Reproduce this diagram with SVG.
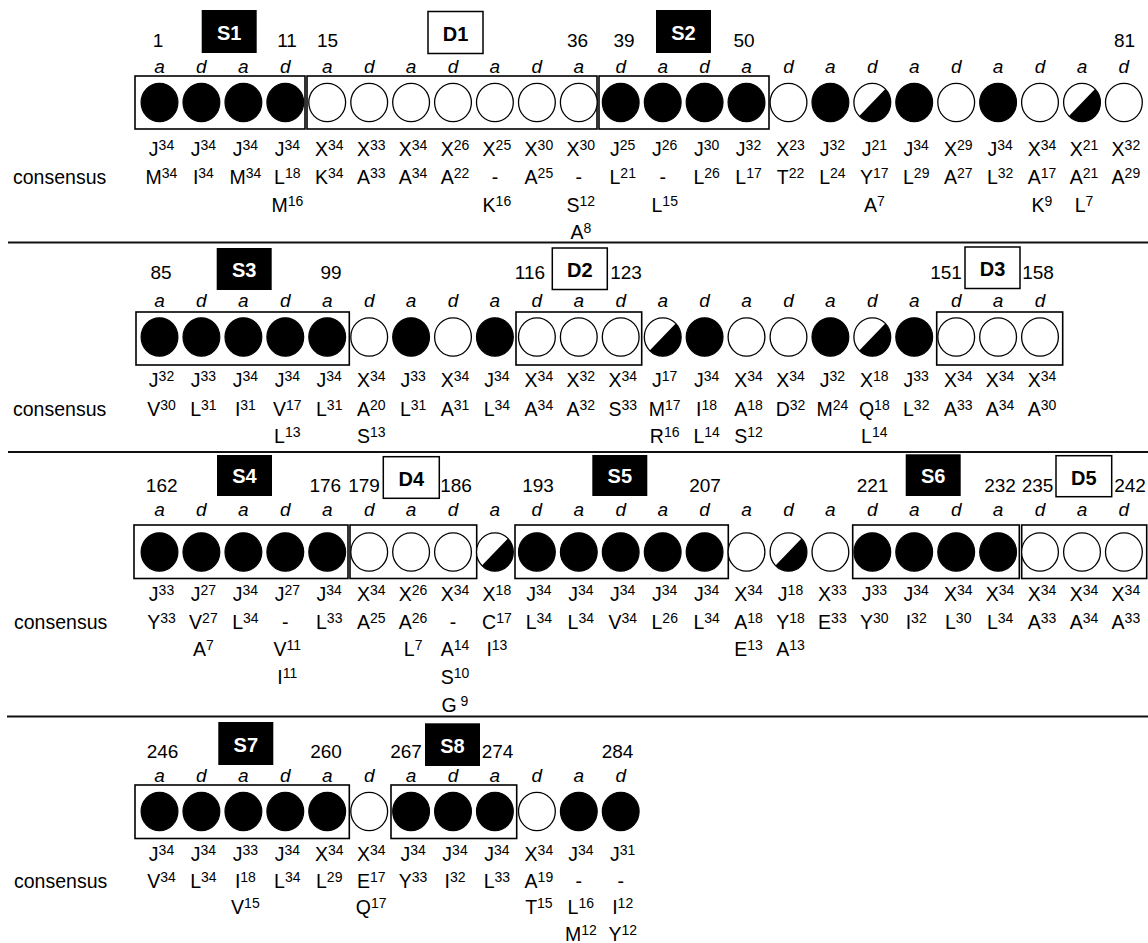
<svg xmlns="http://www.w3.org/2000/svg" width="1148" height="943" viewBox="0 0 1148 943">
<style>
text{font-family:"Liberation Sans",Arial,sans-serif;fill:#000}
.n{font-size:19px;text-anchor:middle}
.ad{font-size:19px;font-style:italic;text-anchor:middle}
.l{font-size:19.5px;text-anchor:middle}
.s{font-size:14px}
.cons{font-size:19.5px}
.hb{fill:#000}
.hw{fill:#fff;stroke:#000;stroke-width:1.5}
.ht{font-size:20px;font-weight:bold;text-anchor:middle}
.htw{fill:#fff}
.frame{fill:none;stroke:#000;stroke-width:1.6}
.rule{stroke:#111;stroke-width:1.8}
</style>
<defs>
<ellipse id="F" rx="18.4" ry="19.2" fill="#000" stroke="#000" stroke-width="1.2"/>
<ellipse id="O" rx="18.4" ry="19.2" fill="#fff" stroke="#000" stroke-width="1.3"/>
<g id="H"><ellipse rx="18.4" ry="19.2" fill="#fff" stroke="#000" stroke-width="1.3"/><path d="M-13.01,13.58 A18.4,19.2 0 0 0 13.01,-13.58 Z" fill="#000"/></g>
</defs>
<rect width="1148" height="943" fill="#fff"/>

<g id="rules">
<line class="rule" x1="8" y1="242.5" x2="1148" y2="242.5"/>
<line class="rule" x1="8" y1="452" x2="1148" y2="452"/>
<line class="rule" x1="7" y1="716.5" x2="1148" y2="716.5"/>
</g>

<!-- ROW 1 -->
<g id="row1">
<text class="cons" x="13" y="184">consensus</text>
<g id="S1"><rect class="hb" x="201.7" y="10" width="55" height="43"/><text class="ht htw" x="229.2" y="39.5">S1</text><rect class="frame" x="135" y="76" width="170" height="53"/></g>
<g id="D1"><rect class="hw" x="428" y="11.5" width="55" height="42"/><text class="ht" x="455.5" y="40.5">D1</text><rect class="frame" x="307" y="76" width="290" height="53"/></g>
<g id="S2"><rect class="hb" x="656" y="10" width="55" height="43"/><text class="ht htw" x="683.5" y="39.5">S2</text><rect class="frame" x="599" y="76" width="170" height="53"/></g>
<g id="r1num">
<text class="n" x="158" y="47">1</text><text class="n" x="287" y="47">11</text><text class="n" x="327.5" y="47">15</text><text class="n" x="577.5" y="47">36</text><text class="n" x="624" y="47">39</text><text class="n" x="744" y="47">50</text><text class="n" x="1124.5" y="47">81</text>
</g>
<g id="r1c0" transform="translate(159.5)"><text class="ad" y="72.5">a</text><use href="#F" y="102.5"/><text class="l" x="2" y="156">J<tspan class="s" dy="-6">34</tspan></text><text class="l" x="2" y="184">M<tspan class="s" dy="-6">34</tspan></text></g>
<g id="r1c1" transform="translate(201.4)"><text class="ad" y="72.5">d</text><use href="#F" y="102.5"/><text class="l" x="2" y="156">J<tspan class="s" dy="-6">34</tspan></text><text class="l" x="2" y="184">I<tspan class="s" dy="-6">34</tspan></text></g>
<g id="r1c2" transform="translate(243.4)"><text class="ad" y="72.5">a</text><use href="#F" y="102.5"/><text class="l" x="2" y="156">J<tspan class="s" dy="-6">34</tspan></text><text class="l" x="2" y="184">M<tspan class="s" dy="-6">34</tspan></text></g>
<g id="r1c3" transform="translate(285.3)"><text class="ad" y="72.5">d</text><use href="#F" y="102.5"/><text class="l" x="2" y="156">J<tspan class="s" dy="-6">34</tspan></text><text class="l" x="2" y="184">L<tspan class="s" dy="-6">18</tspan></text><text class="l" x="2" y="211.5">M<tspan class="s" dy="-6">16</tspan></text></g>
<g id="r1c4" transform="translate(327.2)"><text class="ad" y="72.5">a</text><use href="#O" y="102.5"/><text class="l" x="2" y="156">X<tspan class="s" dy="-6">34</tspan></text><text class="l" x="2" y="184">K<tspan class="s" dy="-6">34</tspan></text></g>
<g id="r1c5" transform="translate(369.2)"><text class="ad" y="72.5">d</text><use href="#O" y="102.5"/><text class="l" x="2" y="156">X<tspan class="s" dy="-6">33</tspan></text><text class="l" x="2" y="184">A<tspan class="s" dy="-6">33</tspan></text></g>
<g id="r1c6" transform="translate(411.1)"><text class="ad" y="72.5">a</text><use href="#O" y="102.5"/><text class="l" x="2" y="156">X<tspan class="s" dy="-6">34</tspan></text><text class="l" x="2" y="184">A<tspan class="s" dy="-6">34</tspan></text></g>
<g id="r1c7" transform="translate(453)"><text class="ad" y="72.5">d</text><use href="#O" y="102.5"/><text class="l" x="2" y="156">X<tspan class="s" dy="-6">26</tspan></text><text class="l" x="2" y="184">A<tspan class="s" dy="-6">22</tspan></text></g>
<g id="r1c8" transform="translate(494.9)"><text class="ad" y="72.5">a</text><use href="#O" y="102.5"/><text class="l" x="2" y="156">X<tspan class="s" dy="-6">25</tspan></text><text class="l" y="184">-</text><text class="l" x="2" y="211.5">K<tspan class="s" dy="-6">16</tspan></text></g>
<g id="r1c9" transform="translate(536.9)"><text class="ad" y="72.5">d</text><use href="#O" y="102.5"/><text class="l" x="2" y="156">X<tspan class="s" dy="-6">30</tspan></text><text class="l" x="2" y="184">A<tspan class="s" dy="-6">25</tspan></text></g>
<g id="r1c10" transform="translate(578.8)"><text class="ad" y="72.5">a</text><use href="#O" y="102.5"/><text class="l" x="2" y="156">X<tspan class="s" dy="-6">30</tspan></text><text class="l" y="184">-</text><text class="l" x="2" y="211.5">S<tspan class="s" dy="-6">12</tspan></text><text class="l" x="2" y="238.5">A<tspan class="s" dy="-6">8</tspan></text></g>
<g id="r1c11" transform="translate(620.7)"><text class="ad" y="72.5">d</text><use href="#F" y="102.5"/><text class="l" x="2" y="156">J<tspan class="s" dy="-6">25</tspan></text><text class="l" x="2" y="184">L<tspan class="s" dy="-6">21</tspan></text></g>
<g id="r1c12" transform="translate(662.7)"><text class="ad" y="72.5">a</text><use href="#F" y="102.5"/><text class="l" x="2" y="156">J<tspan class="s" dy="-6">26</tspan></text><text class="l" y="184">-</text><text class="l" x="2" y="211.5">L<tspan class="s" dy="-6">15</tspan></text></g>
<g id="r1c13" transform="translate(704.6)"><text class="ad" y="72.5">d</text><use href="#F" y="102.5"/><text class="l" x="2" y="156">J<tspan class="s" dy="-6">30</tspan></text><text class="l" x="2" y="184">L<tspan class="s" dy="-6">26</tspan></text></g>
<g id="r1c14" transform="translate(746.5)"><text class="ad" y="72.5">a</text><use href="#F" y="102.5"/><text class="l" x="2" y="156">J<tspan class="s" dy="-6">32</tspan></text><text class="l" x="2" y="184">L<tspan class="s" dy="-6">17</tspan></text></g>
<g id="r1c15" transform="translate(788.5)"><text class="ad" y="72.5">d</text><use href="#O" y="102.5"/><text class="l" x="2" y="156">X<tspan class="s" dy="-6">23</tspan></text><text class="l" x="2" y="184">T<tspan class="s" dy="-6">22</tspan></text></g>
<g id="r1c16" transform="translate(830.4)"><text class="ad" y="72.5">a</text><use href="#F" y="102.5"/><text class="l" x="2" y="156">J<tspan class="s" dy="-6">32</tspan></text><text class="l" x="2" y="184">L<tspan class="s" dy="-6">24</tspan></text></g>
<g id="r1c17" transform="translate(872.3)"><text class="ad" y="72.5">d</text><use href="#H" y="102.5"/><text class="l" x="2" y="156">J<tspan class="s" dy="-6">21</tspan></text><text class="l" x="2" y="184">Y<tspan class="s" dy="-6">17</tspan></text><text class="l" x="2" y="211.5">A<tspan class="s" dy="-6">7</tspan></text></g>
<g id="r1c18" transform="translate(914.2)"><text class="ad" y="72.5">a</text><use href="#F" y="102.5"/><text class="l" x="2" y="156">J<tspan class="s" dy="-6">34</tspan></text><text class="l" x="2" y="184">L<tspan class="s" dy="-6">29</tspan></text></g>
<g id="r1c19" transform="translate(956.2)"><text class="ad" y="72.5">d</text><use href="#O" y="102.5"/><text class="l" x="2" y="156">X<tspan class="s" dy="-6">29</tspan></text><text class="l" x="2" y="184">A<tspan class="s" dy="-6">27</tspan></text></g>
<g id="r1c20" transform="translate(998.1)"><text class="ad" y="72.5">a</text><use href="#F" y="102.5"/><text class="l" x="2" y="156">J<tspan class="s" dy="-6">34</tspan></text><text class="l" x="2" y="184">L<tspan class="s" dy="-6">32</tspan></text></g>
<g id="r1c21" transform="translate(1040)"><text class="ad" y="72.5">d</text><use href="#O" y="102.5"/><text class="l" x="2" y="156">X<tspan class="s" dy="-6">34</tspan></text><text class="l" x="2" y="184">A<tspan class="s" dy="-6">17</tspan></text><text class="l" x="2" y="211.5">K<tspan class="s" dy="-6">9</tspan></text></g>
<g id="r1c22" transform="translate(1082)"><text class="ad" y="72.5">a</text><use href="#H" y="102.5"/><text class="l" x="2" y="156">X<tspan class="s" dy="-6">21</tspan></text><text class="l" x="2" y="184">A<tspan class="s" dy="-6">21</tspan></text><text class="l" x="2" y="211.5">L<tspan class="s" dy="-6">7</tspan></text></g>
<g id="r1c23" transform="translate(1123.9)"><text class="ad" y="72.5">d</text><use href="#O" y="102.5"/><text class="l" x="2" y="156">X<tspan class="s" dy="-6">32</tspan></text><text class="l" x="2" y="184">A<tspan class="s" dy="-6">29</tspan></text></g>
</g>

<!-- ROW 2 -->
<g id="row2">
<text class="cons" x="13" y="416">consensus</text>
<g id="S3"><rect class="hb" x="216.7" y="248" width="55" height="42"/><text class="ht htw" x="244.2" y="277">S3</text><rect class="frame" x="136" y="312" width="213.3" height="53"/></g>
<g id="D2"><rect class="hw" x="552.3" y="248" width="55" height="41.5"/><text class="ht" x="579.8" y="277">D2</text><rect class="frame" x="516" y="312" width="125.7" height="53"/></g>
<g id="D3"><rect class="hw" x="965" y="247" width="55" height="41.5"/><text class="ht" x="992.5" y="276">D3</text><rect class="frame" x="936.7" y="312" width="126" height="53"/></g>
<g id="r2num">
<text class="n" x="161" y="279">85</text><text class="n" x="331" y="279">99</text><text class="n" x="530" y="279">116</text><text class="n" x="626" y="279">123</text><text class="n" x="946" y="279">151</text><text class="n" x="1038" y="279">158</text>
</g>
<g id="r2c0" transform="translate(159.5)"><text class="ad" y="306.5">a</text><use href="#F" y="337"/><text class="l" x="2" y="387">J<tspan class="s" dy="-6">32</tspan></text><text class="l" x="2" y="416">V<tspan class="s" dy="-6">30</tspan></text></g>
<g id="r2c1" transform="translate(201.4)"><text class="ad" y="306.5">d</text><use href="#F" y="337"/><text class="l" x="2" y="387">J<tspan class="s" dy="-6">33</tspan></text><text class="l" x="2" y="416">L<tspan class="s" dy="-6">31</tspan></text></g>
<g id="r2c2" transform="translate(243.4)"><text class="ad" y="306.5">a</text><use href="#F" y="337"/><text class="l" x="2" y="387">J<tspan class="s" dy="-6">34</tspan></text><text class="l" x="2" y="416">I<tspan class="s" dy="-6">31</tspan></text></g>
<g id="r2c3" transform="translate(285.3)"><text class="ad" y="306.5">d</text><use href="#F" y="337"/><text class="l" x="2" y="387">J<tspan class="s" dy="-6">34</tspan></text><text class="l" x="2" y="416">V<tspan class="s" dy="-6">17</tspan></text><text class="l" x="2" y="443">L<tspan class="s" dy="-6">13</tspan></text></g>
<g id="r2c4" transform="translate(327.2)"><text class="ad" y="306.5">a</text><use href="#F" y="337"/><text class="l" x="2" y="387">J<tspan class="s" dy="-6">34</tspan></text><text class="l" x="2" y="416">L<tspan class="s" dy="-6">31</tspan></text></g>
<g id="r2c5" transform="translate(369.2)"><text class="ad" y="306.5">d</text><use href="#O" y="337"/><text class="l" x="2" y="387">X<tspan class="s" dy="-6">34</tspan></text><text class="l" x="2" y="416">A<tspan class="s" dy="-6">20</tspan></text><text class="l" x="2" y="443">S<tspan class="s" dy="-6">13</tspan></text></g>
<g id="r2c6" transform="translate(411.1)"><text class="ad" y="306.5">a</text><use href="#F" y="337"/><text class="l" x="2" y="387">J<tspan class="s" dy="-6">33</tspan></text><text class="l" x="2" y="416">L<tspan class="s" dy="-6">31</tspan></text></g>
<g id="r2c7" transform="translate(453)"><text class="ad" y="306.5">d</text><use href="#O" y="337"/><text class="l" x="2" y="387">X<tspan class="s" dy="-6">34</tspan></text><text class="l" x="2" y="416">A<tspan class="s" dy="-6">31</tspan></text></g>
<g id="r2c8" transform="translate(494.9)"><text class="ad" y="306.5">a</text><use href="#F" y="337"/><text class="l" x="2" y="387">J<tspan class="s" dy="-6">34</tspan></text><text class="l" x="2" y="416">L<tspan class="s" dy="-6">34</tspan></text></g>
<g id="r2c9" transform="translate(536.9)"><text class="ad" y="306.5">d</text><use href="#O" y="337"/><text class="l" x="2" y="387">X<tspan class="s" dy="-6">34</tspan></text><text class="l" x="2" y="416">A<tspan class="s" dy="-6">34</tspan></text></g>
<g id="r2c10" transform="translate(578.8)"><text class="ad" y="306.5">a</text><use href="#O" y="337"/><text class="l" x="2" y="387">X<tspan class="s" dy="-6">32</tspan></text><text class="l" x="2" y="416">A<tspan class="s" dy="-6">32</tspan></text></g>
<g id="r2c11" transform="translate(620.7)"><text class="ad" y="306.5">d</text><use href="#O" y="337"/><text class="l" x="2" y="387">X<tspan class="s" dy="-6">34</tspan></text><text class="l" x="2" y="416">S<tspan class="s" dy="-6">33</tspan></text></g>
<g id="r2c12" transform="translate(662.7)"><text class="ad" y="306.5">a</text><use href="#H" y="337"/><text class="l" x="2" y="387">J<tspan class="s" dy="-6">17</tspan></text><text class="l" x="2" y="416">M<tspan class="s" dy="-6">17</tspan></text><text class="l" x="2" y="443">R<tspan class="s" dy="-6">16</tspan></text></g>
<g id="r2c13" transform="translate(704.6)"><text class="ad" y="306.5">d</text><use href="#F" y="337"/><text class="l" x="2" y="387">J<tspan class="s" dy="-6">34</tspan></text><text class="l" x="2" y="416">I<tspan class="s" dy="-6">18</tspan></text><text class="l" x="2" y="443">L<tspan class="s" dy="-6">14</tspan></text></g>
<g id="r2c14" transform="translate(746.5)"><text class="ad" y="306.5">a</text><use href="#O" y="337"/><text class="l" x="2" y="387">X<tspan class="s" dy="-6">34</tspan></text><text class="l" x="2" y="416">A<tspan class="s" dy="-6">18</tspan></text><text class="l" x="2" y="443">S<tspan class="s" dy="-6">12</tspan></text></g>
<g id="r2c15" transform="translate(788.5)"><text class="ad" y="306.5">d</text><use href="#O" y="337"/><text class="l" x="2" y="387">X<tspan class="s" dy="-6">34</tspan></text><text class="l" x="2" y="416">D<tspan class="s" dy="-6">32</tspan></text></g>
<g id="r2c16" transform="translate(830.4)"><text class="ad" y="306.5">a</text><use href="#F" y="337"/><text class="l" x="2" y="387">J<tspan class="s" dy="-6">32</tspan></text><text class="l" x="2" y="416">M<tspan class="s" dy="-6">24</tspan></text></g>
<g id="r2c17" transform="translate(872.3)"><text class="ad" y="306.5">d</text><use href="#H" y="337"/><text class="l" x="2" y="387">X<tspan class="s" dy="-6">18</tspan></text><text class="l" x="2" y="416">Q<tspan class="s" dy="-6">18</tspan></text><text class="l" x="2" y="443">L<tspan class="s" dy="-6">14</tspan></text></g>
<g id="r2c18" transform="translate(914.2)"><text class="ad" y="306.5">a</text><use href="#F" y="337"/><text class="l" x="2" y="387">J<tspan class="s" dy="-6">33</tspan></text><text class="l" x="2" y="416">L<tspan class="s" dy="-6">32</tspan></text></g>
<g id="r2c19" transform="translate(956.2)"><text class="ad" y="306.5">d</text><use href="#O" y="337"/><text class="l" x="2" y="387">X<tspan class="s" dy="-6">34</tspan></text><text class="l" x="2" y="416">A<tspan class="s" dy="-6">33</tspan></text></g>
<g id="r2c20" transform="translate(998.1)"><text class="ad" y="306.5">a</text><use href="#O" y="337"/><text class="l" x="2" y="387">X<tspan class="s" dy="-6">34</tspan></text><text class="l" x="2" y="416">A<tspan class="s" dy="-6">34</tspan></text></g>
<g id="r2c21" transform="translate(1040)"><text class="ad" y="306.5">d</text><use href="#O" y="337"/><text class="l" x="2" y="387">X<tspan class="s" dy="-6">34</tspan></text><text class="l" x="2" y="416">A<tspan class="s" dy="-6">30</tspan></text></g>
</g>

<!-- ROW 3 -->
<g id="row3">
<text class="cons" x="14" y="628.5">consensus</text>
<g id="S4"><rect class="hb" x="217" y="455" width="55" height="41"/><text class="ht htw" x="244.5" y="483">S4</text><rect class="frame" x="134" y="525" width="214" height="53.5"/></g>
<g id="D4"><rect class="hw" x="383.3" y="456.7" width="56" height="41.6"/><text class="ht" x="411.3" y="485.5">D4</text><rect class="frame" x="350" y="525" width="126.7" height="53.5"/></g>
<g id="S5"><rect class="hb" x="592.3" y="455" width="55" height="41"/><text class="ht htw" x="619.8" y="483">S5</text><rect class="frame" x="515" y="525" width="213.3" height="53.5"/></g>
<g id="S6"><rect class="hb" x="905.7" y="454.3" width="55" height="41.7"/><text class="ht htw" x="933.2" y="483">S6</text><rect class="frame" x="852.7" y="525" width="166.6" height="53.5"/></g>
<g id="D5"><rect class="hw" x="1056" y="455.7" width="55.7" height="41"/><text class="ht" x="1083.8" y="484.5">D5</text><rect class="frame" x="1021.7" y="525" width="125" height="53.5"/></g>
<g id="r3num">
<text class="n" x="161.7" y="492">162</text><text class="n" x="325.3" y="492">176</text><text class="n" x="364" y="492">179</text><text class="n" x="456" y="492">186</text><text class="n" x="538" y="492">193</text><text class="n" x="705" y="492">207</text><text class="n" x="872.5" y="492">221</text><text class="n" x="1000" y="492">232</text><text class="n" x="1037.5" y="492">235</text><text class="n" x="1130" y="492">242</text>
</g>
<g id="r3c0" transform="translate(159.5)"><text class="ad" y="515.5">a</text><use href="#F" y="552"/><text class="l" x="2" y="601">J<tspan class="s" dy="-6">33</tspan></text><text class="l" x="2" y="628.5">Y<tspan class="s" dy="-6">33</tspan></text></g>
<g id="r3c1" transform="translate(201.4)"><text class="ad" y="515.5">d</text><use href="#F" y="552"/><text class="l" x="2" y="601">J<tspan class="s" dy="-6">27</tspan></text><text class="l" x="2" y="628.5">V<tspan class="s" dy="-6">27</tspan></text><text class="l" x="2" y="656">A<tspan class="s" dy="-6">7</tspan></text></g>
<g id="r3c2" transform="translate(243.4)"><text class="ad" y="515.5">a</text><use href="#F" y="552"/><text class="l" x="2" y="601">J<tspan class="s" dy="-6">34</tspan></text><text class="l" x="2" y="628.5">L<tspan class="s" dy="-6">34</tspan></text></g>
<g id="r3c3" transform="translate(285.3)"><text class="ad" y="515.5">d</text><use href="#F" y="552"/><text class="l" x="2" y="601">J<tspan class="s" dy="-6">27</tspan></text><text class="l" y="628.5">-</text><text class="l" x="2" y="656">V<tspan class="s" dy="-6">11</tspan></text><text class="l" x="2" y="683.5">I<tspan class="s" dy="-6">11</tspan></text></g>
<g id="r3c4" transform="translate(327.2)"><text class="ad" y="515.5">a</text><use href="#F" y="552"/><text class="l" x="2" y="601">J<tspan class="s" dy="-6">34</tspan></text><text class="l" x="2" y="628.5">L<tspan class="s" dy="-6">33</tspan></text></g>
<g id="r3c5" transform="translate(369.2)"><text class="ad" y="515.5">d</text><use href="#O" y="552"/><text class="l" x="2" y="601">X<tspan class="s" dy="-6">34</tspan></text><text class="l" x="2" y="628.5">A<tspan class="s" dy="-6">25</tspan></text></g>
<g id="r3c6" transform="translate(411.1)"><text class="ad" y="515.5">a</text><use href="#O" y="552"/><text class="l" x="2" y="601">X<tspan class="s" dy="-6">26</tspan></text><text class="l" x="2" y="628.5">A<tspan class="s" dy="-6">26</tspan></text><text class="l" x="2" y="656">L<tspan class="s" dy="-6">7</tspan></text></g>
<g id="r3c7" transform="translate(453)"><text class="ad" y="515.5">d</text><use href="#O" y="552"/><text class="l" x="2" y="601">X<tspan class="s" dy="-6">34</tspan></text><text class="l" y="628.5">-</text><text class="l" x="2" y="656">A<tspan class="s" dy="-6">14</tspan></text><text class="l" x="2" y="683.5">S<tspan class="s" dy="-6">10</tspan></text><text class="l" x="2" y="711.5">G<tspan class="s" dy="-6"> 9</tspan></text></g>
<g id="r3c8" transform="translate(494.9)"><text class="ad" y="515.5">a</text><use href="#H" y="552"/><text class="l" x="2" y="601">X<tspan class="s" dy="-6">18</tspan></text><text class="l" x="2" y="628.5">C<tspan class="s" dy="-6">17</tspan></text><text class="l" x="2" y="656">I<tspan class="s" dy="-6">13</tspan></text></g>
<g id="r3c9" transform="translate(536.9)"><text class="ad" y="515.5">d</text><use href="#F" y="552"/><text class="l" x="2" y="601">J<tspan class="s" dy="-6">34</tspan></text><text class="l" x="2" y="628.5">L<tspan class="s" dy="-6">34</tspan></text></g>
<g id="r3c10" transform="translate(578.8)"><text class="ad" y="515.5">a</text><use href="#F" y="552"/><text class="l" x="2" y="601">J<tspan class="s" dy="-6">34</tspan></text><text class="l" x="2" y="628.5">L<tspan class="s" dy="-6">34</tspan></text></g>
<g id="r3c11" transform="translate(620.7)"><text class="ad" y="515.5">d</text><use href="#F" y="552"/><text class="l" x="2" y="601">J<tspan class="s" dy="-6">34</tspan></text><text class="l" x="2" y="628.5">V<tspan class="s" dy="-6">34</tspan></text></g>
<g id="r3c12" transform="translate(662.7)"><text class="ad" y="515.5">a</text><use href="#F" y="552"/><text class="l" x="2" y="601">J<tspan class="s" dy="-6">34</tspan></text><text class="l" x="2" y="628.5">L<tspan class="s" dy="-6">26</tspan></text></g>
<g id="r3c13" transform="translate(704.6)"><text class="ad" y="515.5">d</text><use href="#F" y="552"/><text class="l" x="2" y="601">J<tspan class="s" dy="-6">34</tspan></text><text class="l" x="2" y="628.5">L<tspan class="s" dy="-6">34</tspan></text></g>
<g id="r3c14" transform="translate(746.5)"><text class="ad" y="515.5">a</text><use href="#O" y="552"/><text class="l" x="2" y="601">X<tspan class="s" dy="-6">34</tspan></text><text class="l" x="2" y="628.5">A<tspan class="s" dy="-6">18</tspan></text><text class="l" x="2" y="656">E<tspan class="s" dy="-6">13</tspan></text></g>
<g id="r3c15" transform="translate(788.5)"><text class="ad" y="515.5">d</text><use href="#H" y="552"/><text class="l" x="2" y="601">J<tspan class="s" dy="-6">18</tspan></text><text class="l" x="2" y="628.5">Y<tspan class="s" dy="-6">18</tspan></text><text class="l" x="2" y="656">A<tspan class="s" dy="-6">13</tspan></text></g>
<g id="r3c16" transform="translate(830.4)"><text class="ad" y="515.5">a</text><use href="#O" y="552"/><text class="l" x="2" y="601">X<tspan class="s" dy="-6">33</tspan></text><text class="l" x="2" y="628.5">E<tspan class="s" dy="-6">33</tspan></text></g>
<g id="r3c17" transform="translate(872.3)"><text class="ad" y="515.5">d</text><use href="#F" y="552"/><text class="l" x="2" y="601">J<tspan class="s" dy="-6">33</tspan></text><text class="l" x="2" y="628.5">Y<tspan class="s" dy="-6">30</tspan></text></g>
<g id="r3c18" transform="translate(914.2)"><text class="ad" y="515.5">a</text><use href="#F" y="552"/><text class="l" x="2" y="601">J<tspan class="s" dy="-6">34</tspan></text><text class="l" x="2" y="628.5">I<tspan class="s" dy="-6">32</tspan></text></g>
<g id="r3c19" transform="translate(956.2)"><text class="ad" y="515.5">d</text><use href="#F" y="552"/><text class="l" x="2" y="601">X<tspan class="s" dy="-6">34</tspan></text><text class="l" x="2" y="628.5">L<tspan class="s" dy="-6">30</tspan></text></g>
<g id="r3c20" transform="translate(998.1)"><text class="ad" y="515.5">a</text><use href="#F" y="552"/><text class="l" x="2" y="601">X<tspan class="s" dy="-6">34</tspan></text><text class="l" x="2" y="628.5">L<tspan class="s" dy="-6">34</tspan></text></g>
<g id="r3c21" transform="translate(1040)"><text class="ad" y="515.5">d</text><use href="#O" y="552"/><text class="l" x="2" y="601">X<tspan class="s" dy="-6">34</tspan></text><text class="l" x="2" y="628.5">A<tspan class="s" dy="-6">33</tspan></text></g>
<g id="r3c22" transform="translate(1082)"><text class="ad" y="515.5">a</text><use href="#O" y="552"/><text class="l" x="2" y="601">X<tspan class="s" dy="-6">34</tspan></text><text class="l" x="2" y="628.5">A<tspan class="s" dy="-6">34</tspan></text></g>
<g id="r3c23" transform="translate(1123.9)"><text class="ad" y="515.5">d</text><use href="#O" y="552"/><text class="l" x="2" y="601">X<tspan class="s" dy="-6">34</tspan></text><text class="l" x="2" y="628.5">A<tspan class="s" dy="-6">33</tspan></text></g>
</g>

<!-- ROW 4 -->
<g id="row4">
<text class="cons" x="14" y="887.5">consensus</text>
<g id="S7"><rect class="hb" x="218.3" y="722" width="55" height="43"/><text class="ht htw" x="245.8" y="751.5">S7</text><rect class="frame" x="135" y="785" width="214.3" height="53.5"/></g>
<g id="S8"><rect class="hb" x="425" y="723.3" width="55" height="42.7"/><text class="ht htw" x="452.5" y="752.5">S8</text><rect class="frame" x="391" y="785" width="125.7" height="53.5"/></g>
<g id="r4num">
<text class="n" x="162.5" y="758">246</text><text class="n" x="326" y="758">260</text><text class="n" x="406" y="758">267</text><text class="n" x="497.5" y="758">274</text><text class="n" x="617.5" y="758">284</text>
</g>
<g id="r4c0" transform="translate(159.5)"><text class="ad" y="782">a</text><use href="#F" y="811.5"/><text class="l" x="2" y="861">J<tspan class="s" dy="-6">34</tspan></text><text class="l" x="2" y="888">V<tspan class="s" dy="-6">34</tspan></text></g>
<g id="r4c1" transform="translate(201.4)"><text class="ad" y="782">d</text><use href="#F" y="811.5"/><text class="l" x="2" y="861">J<tspan class="s" dy="-6">34</tspan></text><text class="l" x="2" y="888">L<tspan class="s" dy="-6">34</tspan></text></g>
<g id="r4c2" transform="translate(243.4)"><text class="ad" y="782">a</text><use href="#F" y="811.5"/><text class="l" x="2" y="861">J<tspan class="s" dy="-6">33</tspan></text><text class="l" x="2" y="888">I<tspan class="s" dy="-6">18</tspan></text><text class="l" x="2" y="914">V<tspan class="s" dy="-6">15</tspan></text></g>
<g id="r4c3" transform="translate(285.3)"><text class="ad" y="782">d</text><use href="#F" y="811.5"/><text class="l" x="2" y="861">J<tspan class="s" dy="-6">34</tspan></text><text class="l" x="2" y="888">L<tspan class="s" dy="-6">34</tspan></text></g>
<g id="r4c4" transform="translate(327.2)"><text class="ad" y="782">a</text><use href="#F" y="811.5"/><text class="l" x="2" y="861">X<tspan class="s" dy="-6">34</tspan></text><text class="l" x="2" y="888">L<tspan class="s" dy="-6">29</tspan></text></g>
<g id="r4c5" transform="translate(369.2)"><text class="ad" y="782">d</text><use href="#O" y="811.5"/><text class="l" x="2" y="861">X<tspan class="s" dy="-6">34</tspan></text><text class="l" x="2" y="888">E<tspan class="s" dy="-6">17</tspan></text><text class="l" x="2" y="914">Q<tspan class="s" dy="-6">17</tspan></text></g>
<g id="r4c6" transform="translate(411.1)"><text class="ad" y="782">a</text><use href="#F" y="811.5"/><text class="l" x="2" y="861">J<tspan class="s" dy="-6">34</tspan></text><text class="l" x="2" y="888">Y<tspan class="s" dy="-6">33</tspan></text></g>
<g id="r4c7" transform="translate(453)"><text class="ad" y="782">d</text><use href="#F" y="811.5"/><text class="l" x="2" y="861">J<tspan class="s" dy="-6">34</tspan></text><text class="l" x="2" y="888">I<tspan class="s" dy="-6">32</tspan></text></g>
<g id="r4c8" transform="translate(494.9)"><text class="ad" y="782">a</text><use href="#F" y="811.5"/><text class="l" x="2" y="861">J<tspan class="s" dy="-6">34</tspan></text><text class="l" x="2" y="888">L<tspan class="s" dy="-6">33</tspan></text></g>
<g id="r4c9" transform="translate(536.9)"><text class="ad" y="782">d</text><use href="#O" y="811.5"/><text class="l" x="2" y="861">X<tspan class="s" dy="-6">34</tspan></text><text class="l" x="2" y="888">A<tspan class="s" dy="-6">19</tspan></text><text class="l" x="2" y="914">T<tspan class="s" dy="-6">15</tspan></text></g>
<g id="r4c10" transform="translate(578.8)"><text class="ad" y="782">a</text><use href="#F" y="811.5"/><text class="l" x="2" y="861">J<tspan class="s" dy="-6">34</tspan></text><text class="l" y="888">-</text><text class="l" x="2" y="914">L<tspan class="s" dy="-6">16</tspan></text><text class="l" x="2" y="941">M<tspan class="s" dy="-6">12</tspan></text></g>
<g id="r4c11" transform="translate(620.7)"><text class="ad" y="782">d</text><use href="#F" y="811.5"/><text class="l" x="2" y="861">J<tspan class="s" dy="-6">31</tspan></text><text class="l" y="888">-</text><text class="l" x="2" y="914">I<tspan class="s" dy="-6">12</tspan></text><text class="l" x="2" y="941">Y<tspan class="s" dy="-6">12</tspan></text></g>
</g>
</svg>
